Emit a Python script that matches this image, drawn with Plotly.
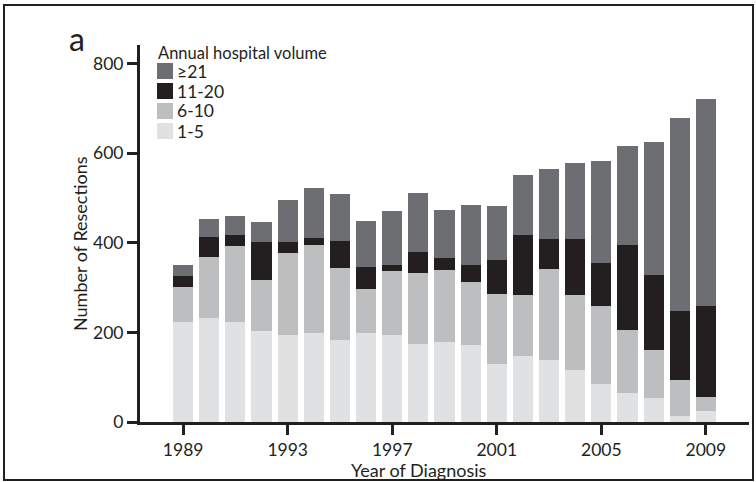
import plotly.graph_objects as go

years = list(range(1989, 2010))
vol_1_5 = [224, 232, 224, 203, 194, 199, 183, 199, 194, 174, 179, 172, 130, 147, 139, 116, 85, 65, 54, 13, 25]
vol_6_10 = [78, 137, 169, 114, 183, 196, 161, 98, 143, 159, 161, 141, 156, 137, 203, 168, 174, 141, 107, 81, 31]
vol_11_20 = [24, 44, 25, 85, 25, 16, 60, 49, 14, 47, 26, 38, 76, 134, 67, 125, 96, 190, 167, 154, 203]
vol_21_plus = [25, 41, 42, 45, 94, 112, 105, 103, 120, 132, 108, 134, 121, 134, 156, 170, 228, 221, 298, 431, 463]

series_names = ["1-5", "6-10", "11-20", "≥21"]
series_values = [vol_1_5, vol_6_10, vol_11_20, vol_21_plus]
series_colors = ["#e0e1e3", "#bcbec0", "#231f20", "#6d6e71"]

x_ticks = [1989, 1993, 1997, 2001, 2005, 2009]
y_ticks = [0, 200, 400, 600, 800]

FONT = "Lato"
INK = "#231f20"

W, H = 756, 482
L, R, T, B = 140, 7, 45, 60
PW, PH = W - L - R, H - T - B


def px(xp):
    return (xp - L) / PW


def py(yp):
    return (H - B - yp) / PH


fig = go.Figure()
for name, vals, col in zip(series_names, series_values, series_colors):
    fig.add_trace(go.Bar(x=years, y=vals, name=name, marker=dict(color=col, line=dict(width=0)),
                         width=0.77, showlegend=False))

fig.update_layout(
    width=W, height=H, barmode="stack",
    margin=dict(l=L, r=R, t=T, b=B),
    paper_bgcolor="white", plot_bgcolor="white",
    font=dict(family=FONT, size=17, color=INK),
    xaxis=dict(range=[1987.35, 2010.65], tickvals=x_ticks, ticks="outside", ticklen=10, tickwidth=3,
               tickcolor=INK, showline=True, linewidth=3, linecolor=INK, showgrid=False, zeroline=False,
               tickfont=dict(size=17.5, family=FONT, color=INK)),
    yaxis=dict(range=[0, 842], tickvals=y_ticks, ticks="outside", ticklen=10, tickwidth=3,
               tickcolor=INK, showline=True, linewidth=3, linecolor=INK, showgrid=False, zeroline=False,
               tickfont=dict(size=17.5, family=FONT, color=INK)),
)

annotations = [
    dict(text="Year of Diagnosis", x=px(419), y=py(470), xref="paper", yref="paper",
         showarrow=False, font=dict(size=18, family=FONT, color=INK), xanchor="center", yanchor="middle"),
    dict(text="Number of Resections", x=px(80), y=py(244), xref="paper", yref="paper", textangle=-90,
         showarrow=False, font=dict(size=18, family=FONT, color=INK), xanchor="center", yanchor="middle"),
    dict(text="a", x=px(77), y=py(38), xref="paper", yref="paper",
         showarrow=False, font=dict(size=32, family=FONT, color=INK), xanchor="center", yanchor="middle"),
    dict(text="Annual hospital volume", x=px(156), y=py(53), xref="paper", yref="paper",
         showarrow=False, font=dict(size=16.5, family=FONT, color=INK), xanchor="left", yanchor="middle"),
]
shapes = []
# manual legend, top item = last series
for i, idx in enumerate(reversed(range(len(series_names)))):
    top = 63 + 20 * i
    shapes.append(dict(type="rect", xref="paper", yref="paper", x0=px(157), x1=px(173),
                       y0=py(top + 16), y1=py(top), fillcolor=series_colors[idx], line=dict(width=0)))
    annotations.append(dict(text=series_names[idx], x=px(175), y=py(top + 8), xref="paper", yref="paper",
                            showarrow=False, font=dict(size=17.5, family=FONT, color=INK),
                            xanchor="left", yanchor="middle"))
# outer frame
shapes.append(dict(type="rect", xref="paper", yref="paper", x0=px(4), x1=px(753), y0=py(480), y1=py(5),
                   line=dict(color=INK, width=2), fillcolor="rgba(0,0,0,0)", layer="below"))
fig.update_layout(annotations=annotations, shapes=shapes)

fig.write_html("out.html", config=dict(displayModeBar=False),
               post_script="document.body.style.margin='0';document.body.style.overflow='hidden';")
